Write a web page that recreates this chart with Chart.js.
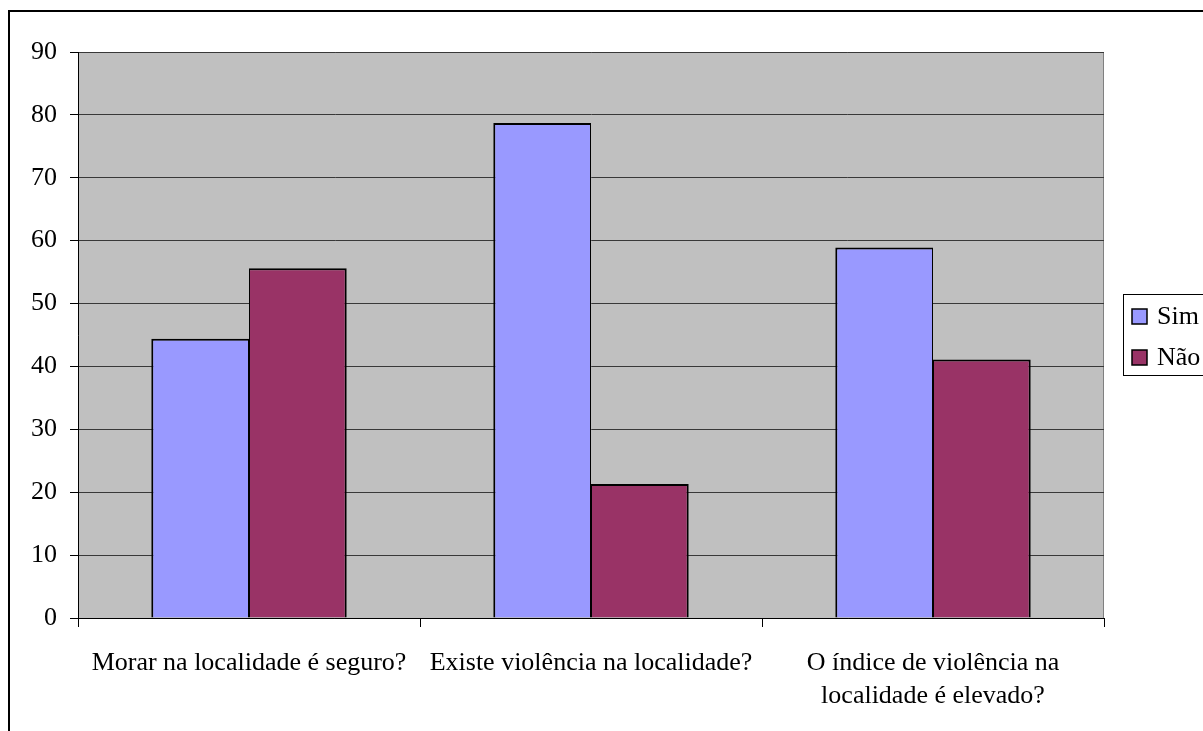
<!DOCTYPE html>
<html>
<head>
<meta charset="utf-8">
<script src="https://cdn.jsdelivr.net/npm/chart.js@4/dist/chart.umd.min.js"></script>
<style>
  html, body { margin: 0; padding: 0; background: #ffffff; }
  #wrap { width: 1203px; height: 731px; }
</style>
</head>
<body>
<div id="wrap"><canvas id="c" width="1203" height="731"></canvas></div>
<script>
// Survey questions (categories)
const categories = [
  'Morar na localidade é seguro?',
  'Existe violência na localidade?',
  ['O índice de violência na', 'localidade é elevado?']
];
// Percentages of answers
const simValues = [44.4, 78.7, 58.9];
const naoValues = [55.6, 21.3, 41.1];
const seriesNames = ['Sim', 'Não'];
const seriesColors = ['#9999FF', '#993366'];
// Value axis range
const yMin = 0, yMax = 90, yStep = 10;

const FONT = { family: "'Liberation Serif', 'Times New Roman', serif", size: 26, lineHeight: 1.27 };

// White page, outer frame and grey plot background
const framePlugin = {
  id: 'frame',
  beforeDraw(chart) {
    const { ctx, chartArea: a } = chart;
    ctx.save();
    ctx.fillStyle = '#ffffff';
    ctx.fillRect(0, 0, chart.width, chart.height);
    ctx.strokeStyle = '#000000';
    ctx.lineWidth = 2;
    ctx.strokeRect(9, 11, chart.width + 20, chart.height + 20);
    ctx.fillStyle = '#C0C0C0';
    ctx.fillRect(a.left, a.top, a.right - a.left, a.bottom - a.top);
    ctx.strokeStyle = '#808080';
    ctx.lineWidth = 1;
    ctx.strokeRect(a.left + 0.5, a.top + 0.5, a.right - a.left - 1, a.bottom - a.top);
    ctx.restore();
  }
};

// Boxed legend to the right of the plot
const boxLegendPlugin = {
  id: 'boxLegend',
  afterDraw(chart) {
    const { ctx } = chart;
    const x = 1123.5, y = 294.5, w = 200, h = 81;
    ctx.save();
    ctx.fillStyle = '#ffffff';
    ctx.fillRect(x, y, w, h);
    ctx.strokeStyle = '#000000';
    ctx.lineWidth = 1;
    ctx.strokeRect(x, y, w, h);
    ctx.font = FONT.size + 'px ' + FONT.family;
    ctx.textBaseline = 'middle';
    ctx.textAlign = 'left';
    chart.data.datasets.forEach((ds, i) => {
      const cy = 316 + i * 41;
      ctx.fillStyle = ds.backgroundColor;
      ctx.fillRect(1132, cy - 7, 15, 15);
      ctx.lineWidth = 1.5;
      ctx.strokeStyle = '#000000';
      ctx.strokeRect(1132, cy - 7, 15, 15);
      ctx.fillStyle = '#000000';
      ctx.fillText(ds.label, 1157, cy + 1);
    });
    ctx.restore();
  }
};

new Chart(document.getElementById('c'), {
  type: 'bar',
  data: {
    labels: categories,
    datasets: [
      {
        label: seriesNames[0],
        data: simValues,
        backgroundColor: seriesColors[0],
        borderColor: '#000000',
        borderWidth: { left: 2, top: 2, right: 1, bottom: 0 },
        borderSkipped: false
      },
      {
        label: seriesNames[1],
        data: naoValues,
        backgroundColor: seriesColors[1],
        borderColor: '#000000',
        borderWidth: { left: 1, top: 2, right: 2, bottom: 0 },
        borderSkipped: false
      }
    ]
  },
  options: {
    responsive: false,
    animation: false,
    layout: { padding: { top: 52, right: 99, left: 0, bottom: 0 } },
    plugins: {
      legend: { display: false },
      tooltip: { enabled: false },
      title: { display: false }
    },
    datasets: {
      bar: { categoryPercentage: 2 / 3.5, barPercentage: 1 }
    },
    scales: {
      x: {
        offset: true,
        grid: {
          display: true,
          offset: true,
          drawOnChartArea: false,
          drawTicks: true,
          tickLength: 9,
          color: '#000000',
          lineWidth: 1
        },
        border: { display: true, color: '#000000', width: 1 },
        ticks: {
          color: '#000000',
          font: FONT,
          padding: 20,
          maxRotation: 0,
          minRotation: 0,
          autoSkip: false
        },
        afterFit(scale) { scale.height = 113; }
      },
      y: {
        min: yMin,
        max: yMax,
        grid: {
          color: '#383838',
          lineWidth: 1,
          drawTicks: true,
          tickLength: 8,
          tickColor: '#000000'
        },
        border: { display: true, color: '#000000', width: 1 },
        ticks: {
          stepSize: yStep,
          color: '#000000',
          font: { family: FONT.family, size: 26 },
          padding: 13
        },
        afterFit(scale) { scale.width = 78; }
      }
    }
  },
  plugins: [framePlugin, boxLegendPlugin]
});
</script>
</body>
</html>
